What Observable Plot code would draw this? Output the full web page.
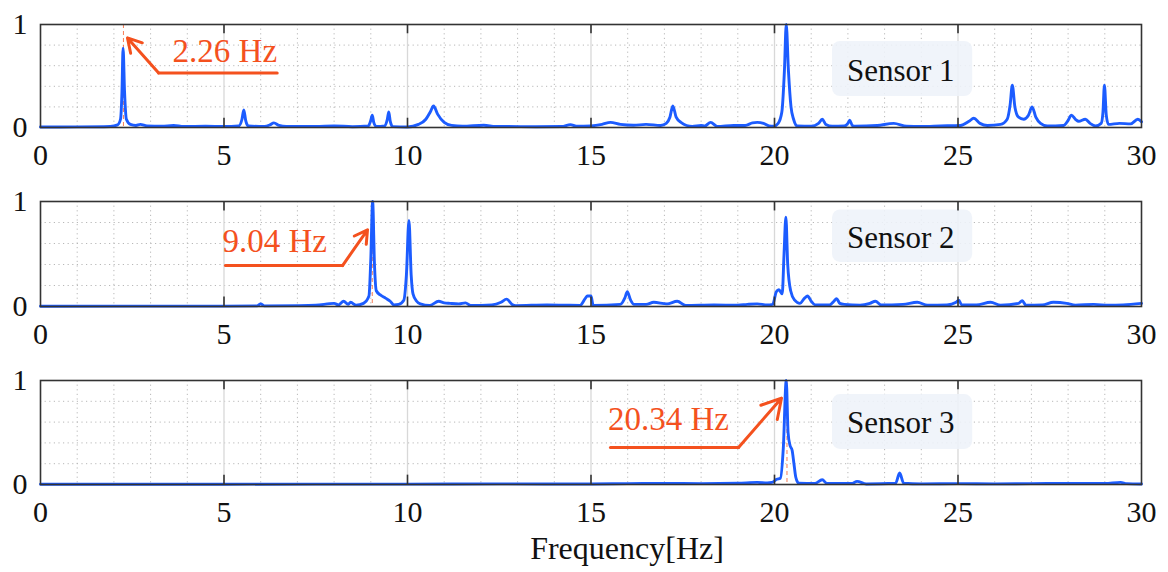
<!DOCTYPE html>
<html><head><meta charset="utf-8">
<script src="https://cdn.jsdelivr.net/npm/d3@7"></script>
<script src="https://cdn.jsdelivr.net/npm/@observablehq/plot@0.6"></script>
<style>body{margin:0;background:#fff} #chart svg{display:block} #chart svg, #chart svg text{font-family:"Liberation Serif","Times New Roman","DejaVu Serif",serif !important}</style>
</head><body><div id="chart"></div>
<script>
// ---- data ----
const s1Freq = [0,1.0,1.9,2.1,2.18,2.22,2.25,2.29,2.34,2.45,2.6,2.72,2.9,3.3,3.63,3.9,4.5,5.0,5.4,5.49,5.54,5.59,5.66,6.1,6.25,6.36,6.5,6.7,7.5,8.0,8.5,8.93,9.0,9.04,9.08,9.15,9.38,9.45,9.49,9.53,9.6,10.0,10.3,10.5,10.62,10.71,10.82,11.0,11.2,11.5,12.08,12.4,13.5,14.2,14.44,14.6,15.0,15.3,15.53,15.8,16.16,16.5,16.9,17.05,17.15,17.23,17.32,17.45,17.76,18.0,18.1,18.26,18.44,18.89,19.2,19.4,19.53,19.7,19.85,19.98,20.1,20.2,20.27,20.32,20.38,20.45,20.52,20.62,21.0,21.2,21.3,21.4,21.57,21.9,22.0,22.05,22.12,22.2,22.8,23.25,23.6,24.0,24.52,25.07,25.3,25.43,25.6,25.8,26.16,26.34,26.42,26.48,26.55,26.65,26.79,26.92,27.02,27.12,27.25,27.43,27.88,28.0,28.09,28.2,28.29,28.47,28.6,28.75,28.9,28.95,28.99,29.04,29.1,29.4,29.7,29.9,30.0];
const s1Amp  = [0.005,0.006,0.01,0.025,0.08,0.35,0.77,0.35,0.08,0.03,0.02,0.03,0.015,0.012,0.02,0.01,0.012,0.01,0.015,0.08,0.17,0.07,0.015,0.01,0.025,0.045,0.02,0.01,0.01,0.015,0.008,0.015,0.07,0.12,0.05,0.01,0.015,0.08,0.15,0.06,0.008,0.005,0.03,0.08,0.15,0.21,0.13,0.05,0.02,0.012,0.022,0.01,0.008,0.01,0.028,0.012,0.015,0.03,0.05,0.03,0.022,0.03,0.02,0.04,0.1,0.21,0.1,0.05,0.01,0.02,0.015,0.05,0.01,0.02,0.02,0.045,0.05,0.04,0.015,0.012,0.04,0.15,0.55,1.0,0.55,0.2,0.08,0.015,0.012,0.04,0.08,0.03,0.012,0.015,0.04,0.07,0.02,0.012,0.02,0.04,0.012,0.01,0.015,0.02,0.06,0.09,0.04,0.02,0.03,0.08,0.22,0.41,0.2,0.1,0.08,0.12,0.2,0.1,0.04,0.015,0.02,0.07,0.12,0.08,0.06,0.08,0.04,0.015,0.04,0.15,0.41,0.12,0.03,0.04,0.035,0.08,0.055];

const s2Freq = [0,5.0,5.9,6.0,6.1,7.0,7.5,8.0,8.12,8.26,8.38,8.45,8.6,8.8,8.95,9.0,9.05,9.1,9.15,9.26,9.4,9.53,9.63,9.76,9.9,9.97,10.04,10.1,10.15,10.25,10.35,10.6,10.85,11.0,11.16,11.4,11.58,11.72,12.3,12.55,12.7,12.85,12.95,13.8,14.3,14.7,14.85,14.9,15.0,15.06,15.8,15.92,15.99,16.08,16.17,16.5,16.71,17.07,17.35,17.58,18.35,19.0,19.26,19.53,19.8,19.95,20.05,20.12,20.21,20.26,20.31,20.36,20.44,20.55,20.69,20.82,20.9,21.0,21.11,21.5,21.62,21.69,21.78,21.9,22.33,22.6,22.75,22.9,23.5,23.89,24.17,24.7,24.95,25.02,25.1,25.5,25.89,26.16,26.65,26.75,26.85,27.3,27.6,27.96,28.2,28.7,29.1,29.5,30.0];
const s2Amp  = [0.003,0.004,0.006,0.025,0.006,0.008,0.012,0.03,0.015,0.05,0.02,0.04,0.012,0.03,0.1,0.45,1.0,0.4,0.15,0.11,0.08,0.05,0.015,0.02,0.06,0.3,0.82,0.3,0.12,0.05,0.025,0.01,0.05,0.035,0.03,0.025,0.035,0.01,0.015,0.04,0.07,0.02,0.008,0.015,0.012,0.01,0.08,0.1,0.1,0.01,0.02,0.08,0.14,0.06,0.02,0.02,0.04,0.025,0.05,0.01,0.015,0.012,0.02,0.025,0.015,0.02,0.14,0.16,0.12,0.5,0.85,0.4,0.15,0.06,0.03,0.08,0.1,0.05,0.015,0.015,0.05,0.075,0.03,0.02,0.012,0.03,0.05,0.015,0.02,0.04,0.012,0.015,0.04,0.06,0.015,0.015,0.04,0.012,0.03,0.055,0.012,0.015,0.04,0.03,0.012,0.02,0.012,0.015,0.03];

const s3Freq = [0,5,10,12.5,15,16,17,18,19,19.53,19.8,19.93,20.06,20.16,20.24,20.32,20.37,20.42,20.48,20.53,20.58,20.66,21.1,21.3,21.43,22.1,22.25,22.5,23.3,23.41,23.52,24,25,26,27,28,29,29.43,29.6,30];
const s3Amp  = [0.002,0.003,0.004,0.006,0.005,0.008,0.01,0.008,0.012,0.02,0.015,0.02,0.05,0.06,0.35,1.0,0.5,0.38,0.33,0.2,0.07,0.012,0.01,0.045,0.01,0.01,0.03,0.005,0.012,0.11,0.012,0.006,0.008,0.006,0.008,0.01,0.01,0.02,0.008,0.005];

const xTicks = [0,5,10,15,20,25,30];
const yTicks = [0,1];
const majorX = [5,10,15,20,25];
const minorX = [1,2,3,4,6,7,8,9,11,12,13,14,16,17,18,19,21,22,23,24,26,27,28,29];
const minorY = [0.2,0.4,0.6,0.8];
const sensorLabels = ["Sensor 1","Sensor 2","Sensor 3"];
const peakFreqs = [2.26, 9.04, 20.34];
const peakLabels = ["2.26 Hz","9.04 Hz","20.34 Hz"];
const xAxisLabel = "Frequency[Hz]";

// ---- annotation layout (data coordinates) ----
const layout = [
  {mt:24, mb:48, h:175, box:{x1:21.58,x2:25.4,y1:0.30,y2:0.835,ty:0.55},
   line:[[6.45,0.53],[3.22,0.53]], arrow:{x1:3.22,y1:0.53,x2:2.37,y2:0.87}, text:{x:3.6,y:0.74}},
  {mt:26, mb:48, h:179, box:{x1:21.58,x2:25.4,y1:0.42,y2:0.92,ty:0.65},
   line:[[5.04,0.39],[8.23,0.39]], arrow:{x1:8.23,y1:0.39,x2:8.91,y2:0.73}, text:{x:4.96,y:0.62}},
  {mt:26, mb:88, h:218, box:{x1:21.58,x2:25.4,y1:0.337,y2:0.865,ty:0.59},
   line:[[15.53,0.356],[19.02,0.356]], arrow:{x1:19.02,y1:0.356,x2:20.19,y2:0.83}, text:{x:15.46,y:0.63}}
];

const BLUE = "#1c5cff", ORANGE = "#f4511e", FONT = "Liberation Serif, Times New Roman, DejaVu Serif, serif";

function panel(freq, amp, i) {
  const L = layout[i];
  const data = freq.map((f, k) => ({f, a: amp[k]}));
  const dotted = {stroke:"#b8b8b8", strokeWidth:1, strokeDasharray:"1.2,3.4"};
  const marks = [
    Plot.ruleX(minorX, dotted),
    Plot.ruleY(minorY, dotted),
    Plot.ruleX(majorX, {stroke:"#d8d8d8", strokeWidth:1.3}),
    Plot.rect([L.box], {x1:"x1", x2:"x2", y1:"y1", y2:"y2", fill:"#eef2f9", fillOpacity:0.88, rx:8}),
    Plot.text([sensorLabels[i]], {x:(L.box.x1+L.box.x2)/2 - 0.05, y:L.box.ty, fontSize:31, fill:"#111"}),
    Plot.ruleX([peakFreqs[i]], {stroke:ORANGE, strokeWidth:1, strokeDasharray:"4,3", strokeOpacity:0.75}),
    Plot.line(data, {x:"f", y:"a", stroke:BLUE, strokeWidth:2.9, curve:"monotone-x", strokeLinejoin:"round"}),
    Plot.ruleX(majorX, {y1:0, y2:0.09, stroke:"#333", strokeWidth:1.6}),
    Plot.ruleX(majorX, {y1:0.91, y2:1, stroke:"#333", strokeWidth:1.6}),
    Plot.frame({stroke:"#333", strokeWidth:1.6}),
    Plot.line(L.line, {x:d=>d[0], y:d=>d[1], stroke:ORANGE, strokeWidth:3}),
    Plot.arrow([L.arrow], {x1:"x1", y1:"y1", x2:"x2", y2:"y2", stroke:ORANGE, strokeWidth:3, headLength:11}),
    Plot.text([peakLabels[i]], {x:L.text.x, y:L.text.y, textAnchor:"start", fontSize:33, fill:ORANGE})
  ];
  if (i === 2) {
    marks.push(Plot.text([xAxisLabel], {frameAnchor:"bottom", dy:74, dx:36, fontSize:32, fill:"#111"}));
  }
  return Plot.plot({
    width:1168, height:L.h,
    marginLeft:40, marginRight:27, marginTop:L.mt, marginBottom:L.mb,
    style:{fontFamily:FONT, fontSize:"30px", background:"#fff", color:"#111"},
    x:{domain:[0,30], ticks:xTicks, tickSize:0, tickPadding:16, label:null, tickFormat:d=>String(d)},
    y:{domain:[0,1], ticks:yTicks, tickSize:0, tickPadding:13, label:null, tickFormat:d=>String(d)},
    marks
  });
}

const el = document.getElementById("chart");
el.append(panel(s1Freq, s1Amp, 0));
el.append(panel(s2Freq, s2Amp, 1));
el.append(panel(s3Freq, s3Amp, 2));
</script>
</body></html>
